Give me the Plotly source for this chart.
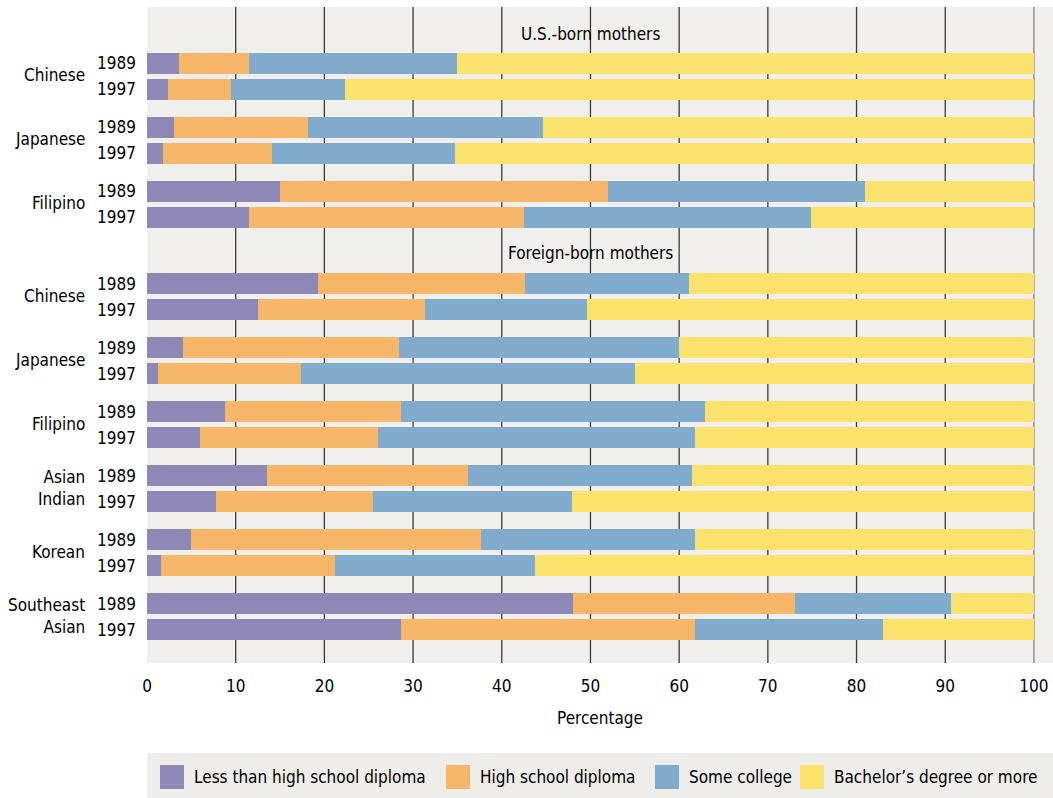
import plotly.graph_objects as go

# ---- data ----
series_names = ["Less than high school diploma", "High school diploma",
                "Some college", "Bachelor\u2019s degree or more"]
colors = ["#8e88b7", "#f5b669", "#81abcd", "#fbe26d"]

us_groups = ["Chinese", "Japanese", "Filipino"]
fb_groups = ["Chinese", "Japanese", "Filipino", "Asian<br>Indian", "Korean", "Southeast<br>Asian"]
years = ["1989", "1997"]

# values per bar (order: US groups 1989/1997, then foreign-born groups 1989/1997)
less_hs = [3.6, 2.4, 3.0, 1.8, 15.0, 11.5,
           19.3, 12.5, 4.1, 1.2, 8.8, 6.0, 13.5, 7.8, 5.0, 1.6, 48.0, 28.6]
hs_diploma = [7.9, 7.1, 15.2, 12.3, 37.0, 31.0,
              23.3, 18.8, 24.3, 16.2, 19.8, 20.0, 22.7, 17.7, 32.7, 19.6, 25.1, 33.2]
some_college = [23.4, 12.8, 26.4, 20.6, 28.9, 32.4,
                18.5, 18.3, 31.6, 37.6, 34.3, 35.8, 25.2, 22.4, 24.1, 22.5, 17.5, 21.2]
bachelors = [65.1, 77.7, 55.4, 65.3, 19.1, 25.1,
             38.9, 50.4, 40.0, 45.0, 37.1, 38.2, 38.6, 52.1, 38.2, 56.3, 9.4, 17.0]

headers = ["U.S.-born mothers", "Foreign-born mothers"]
xticks = [0, 10, 20, 30, 40, 50, 60, 70, 80, 90, 100]

# ---- layout geometry (pixel-like y units) ----
PLOT_H = 656
bar_w = 21
pair_gap = 26
group_step = 64

y_pos = []
group_centers = []
for g in range(len(us_groups)):
    c = 56 + group_step * g
    y_pos += [c, c + pair_gap]
    group_centers.append(c + pair_gap / 2)
for g in range(len(fb_groups)):
    c = 276.5 + group_step * g
    y_pos += [c, c + pair_gap]
    group_centers.append(c + pair_gap / 2)
header_y = [27, 246]

FONT = "DejaVu Sans Condensed, Liberation Sans Narrow, sans-serif"
TXT = "#000000"
FS = 17

fig = go.Figure()
for name, col, vals in zip(series_names, colors, [less_hs, hs_diploma, some_college, bachelors]):
    fig.add_trace(go.Bar(x=vals, y=y_pos, orientation="h", name=name,
                         marker=dict(color=col, line=dict(width=0)),
                         width=bar_w, showlegend=False))

shapes = []
for t in xticks[1:]:
    shapes.append(dict(type="line", xref="x", yref="paper", x0=t, x1=t, y0=0, y1=1,
                       line=dict(color="#808080" if t == 100 else "#3a3a3a", width=1.3),
                       layer="below"))

annotations = []
for h, hy in zip(headers, header_y):
    annotations.append(dict(x=50, y=hy, xref="x", yref="y", text=h, showarrow=False,
                            font=dict(size=FS, color=TXT, family=FONT)))
for i, yp in enumerate(y_pos):
    annotations.append(dict(x=0, y=yp, xref="paper", yref="y", text=years[i % 2],
                            showarrow=False, xanchor="right", xshift=-9,
                            font=dict(size=FS, color=TXT, family=FONT)))
for name, gc in zip(us_groups + fb_groups, group_centers):
    annotations.append(dict(x=0, y=gc - 1, xref="paper", yref="y", text=name,
                            showarrow=False, xanchor="right", xshift=-60, align="right",
                            font=dict(size=FS, color=TXT, family=FONT)))

# custom legend (pixel positions converted to paper coords)
L, T, W = 147, 7, 906
def px_x(p):
    return (p - L) / W
def px_y(p):
    return (T + PLOT_H - p) / PLOT_H

shapes.append(dict(type="rect", xref="paper", yref="paper", x0=0, x1=1,
                   y0=px_y(798), y1=px_y(753), fillcolor="#eeede9",
                   line=dict(width=0), layer="below"))
leg_swatch_x = [160, 446, 655, 800]
for sx, col, name in zip(leg_swatch_x, colors, series_names):
    shapes.append(dict(type="rect", xref="paper", yref="paper",
                       x0=px_x(sx), x1=px_x(sx + 24), y0=px_y(789), y1=px_y(765),
                       fillcolor=col, line=dict(width=0)))
    annotations.append(dict(x=px_x(sx + 32), y=px_y(777), xref="paper", yref="paper",
                            text=name, showarrow=False, xanchor="left", yanchor="middle",
                            font=dict(size=FS, color=TXT, family=FONT)))

fig.update_layout(
    width=1053, height=798,
    margin=dict(l=147, r=0, t=7, b=135),
    barmode="stack", bargap=0,
    plot_bgcolor="#f0efeb", paper_bgcolor="white",
    font=dict(family=FONT, size=FS, color=TXT),
    xaxis=dict(range=[0, 102.15], tickvals=xticks, showgrid=False, zeroline=False,
               showline=False, ticks="", ticklabelstandoff=11,
               tickfont=dict(size=FS, color=TXT, family=FONT),
               title=dict(text="Percentage", standoff=17,
                          font=dict(size=FS, color=TXT, family=FONT)),
               fixedrange=True),
    yaxis=dict(range=[PLOT_H, 0], showticklabels=False, showgrid=False,
               zeroline=False, showline=False, ticks="", fixedrange=True),
    shapes=shapes, annotations=annotations,
)

fig.write_html("out.html", config={"displayModeBar": False},
               post_script="document.body.style.margin='0';document.body.style.overflow='hidden';")
